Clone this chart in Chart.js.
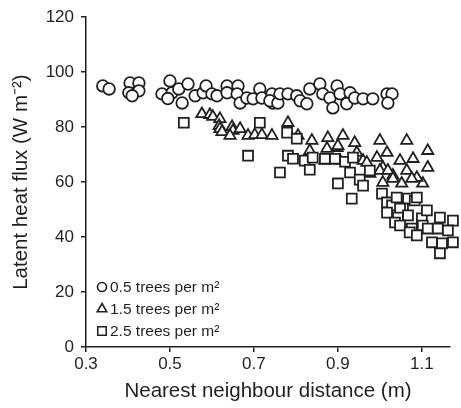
<!DOCTYPE html>
<html>
<head>
<meta charset="utf-8">
<script src="https://cdn.jsdelivr.net/npm/chart.js@4"></script>
<style>
  html, body { margin: 0; padding: 0; background: #fff; }
  #wrap { width: 461px; height: 408px; }
</style>
</head>
<body>
<div id="wrap"><canvas id="chart"></canvas></div>
<script>
// 0.5 trees per m2 (circles)
const circleX = [0.340, 0.355, 0.405, 0.426, 0.402, 0.426, 0.410, 0.481, 0.500, 0.505, 0.521, 0.495, 0.529, 0.543, 0.560, 0.579, 0.586, 0.600, 0.612, 0.636, 0.636, 0.662, 0.660, 0.667, 0.683, 0.698, 0.714, 0.719, 0.743, 0.745, 0.738, 0.757, 0.762, 0.781, 0.802, 0.810, 0.826, 0.833, 0.857, 0.864, 0.881, 0.888, 0.898, 0.905, 0.921, 0.929, 0.940, 0.960, 0.983, 1.017, 1.029, 1.019];
const circleY = [95.0, 93.9, 96.1, 96.1, 92.5, 93.2, 91.4, 92.1, 96.8, 92.5, 93.9, 90.4, 88.8, 95.7, 91.4, 92.5, 95.0, 92.1, 91.4, 95.0, 92.5, 95.0, 92.1, 88.8, 90.6, 90.3, 93.9, 90.6, 92.1, 88.8, 89.6, 88.8, 92.1, 92.1, 91.4, 89.6, 88.5, 93.9, 95.7, 92.1, 90.6, 87.0, 95.0, 92.1, 88.5, 92.5, 90.6, 90.3, 90.3, 92.1, 92.1, 88.8];

// 1.5 trees per m2 (triangles)
const triangleX = [0.576, 0.595, 0.602, 0.619, 0.617, 0.619, 0.624, 0.648, 0.650, 0.643, 0.667, 0.686, 0.702, 0.719, 0.743, 0.781, 0.805, 0.838, 0.876, 0.912, 0.940, 1.000, 1.064, 1.114, 1.114, 1.102, 0.960, 0.993, 1.017, 1.048, 1.079, 0.976, 1.007, 1.031, 1.064, 1.088, 0.833, 0.874, 0.898, 0.905, 0.869, 0.900, 0.945, 0.969, 1.000, 1.019, 1.076, 1.031, 1.007, 1.052];
const triangleY = [84.8, 84.5, 83.8, 83.0, 80.5, 79.4, 78.3, 80.1, 78.7, 76.9, 79.4, 76.9, 77.2, 77.2, 76.9, 81.6, 76.9, 75.1, 76.1, 76.9, 74.3, 75.1, 75.1, 71.4, 65.3, 59.5, 67.8, 68.9, 70.7, 67.8, 68.5, 63.1, 65.3, 62.4, 64.2, 61.6, 71.4, 72.2, 72.5, 67.8, 67.8, 73.2, 70.7, 67.1, 64.2, 64.2, 61.3, 61.3, 59.8, 59.5];

// 2.5 trees per m2 (squares)
const squareX = [0.533, 0.714, 0.686, 0.762, 0.779, 0.802, 0.781, 0.793, 0.821, 0.833, 0.840, 0.869, 0.893, 0.917, 0.936, 0.929, 0.900, 0.952, 0.960, 0.976, 0.933, 1.005, 1.017, 1.029, 1.040, 1.067, 1.083, 1.055, 1.048, 1.017, 1.043, 1.036, 1.067, 1.100, 1.112, 1.143, 1.174, 1.048, 1.076, 1.102, 1.114, 1.138, 1.162, 1.071, 1.088, 1.124, 1.148, 1.174, 1.143, 1.088];
const squareY = [81.6, 81.6, 69.6, 63.5, 78.0, 75.8, 69.6, 68.5, 67.8, 64.5, 68.9, 68.5, 68.5, 67.4, 68.9, 63.5, 59.5, 60.9, 58.7, 64.2, 54.0, 55.8, 52.6, 51.5, 54.4, 54.0, 53.3, 50.4, 50.4, 48.9, 47.1, 45.3, 47.9, 46.8, 49.7, 47.1, 46.0, 44.2, 43.1, 44.2, 43.1, 43.1, 42.4, 41.7, 40.6, 38.1, 37.7, 38.1, 34.1, 54.4];

const legendLabels = ["0.5 trees per m\u00b2", "1.5 trees per m\u00b2", "2.5 trees per m\u00b2"];
const xTicks = [0.3, 0.5, 0.7, 0.9, 1.1];

const ink = "#231f20";
const font = "'Liberation Sans', Arial, sans-serif";

function pts(xs, ys) {
  return xs.map((x, i) => ({ x: x, y: ys[i] }));
}

// little legend drawn inside the plot, bottom-left
const insideLegend = {
  id: "insideLegend",
  afterDraw(chart) {
    const ctx = chart.ctx;
    const a = chart.chartArea;
    const styles = ["circle", "triangle", "rect"];
    const radii = [4.5, 5.5, 6];
    ctx.save();
    ctx.font = "15.5px " + font;
    ctx.textBaseline = "middle";
    legendLabels.forEach((lab, i) => {
      const y = a.bottom - 60 + i * 22;
      const x = a.left + 16;
      ctx.strokeStyle = ink;
      ctx.lineWidth = 1.6;
      ctx.fillStyle = "#fff";
      Chart.helpers.drawPoint(ctx, { pointStyle: styles[i], radius: radii[i], borderWidth: 1.6 }, x, y);
      ctx.fillStyle = ink;
      ctx.fillText(lab, x + 8, y + 1);
    });
    ctx.restore();
  }
};

const common = {
  showLine: false,
  borderColor: ink,
  backgroundColor: "#fff",
  borderWidth: 1.8,
  clip: false
};

new Chart(document.getElementById("chart"), {
  type: "scatter",
  data: {
    datasets: [
      Object.assign({ label: legendLabels[0], data: pts(circleX, circleY), pointStyle: "circle", pointRadius: 5.8, order: 3 }, common),
      Object.assign({ label: legendLabels[1], data: pts(triangleX, triangleY), pointStyle: "triangle", pointRadius: 6.5, order: 2 }, common),
      Object.assign({ label: legendLabels[2], data: pts(squareX, squareY), pointStyle: "rect", pointRadius: 7, order: 1 }, common)
    ]
  },
  options: {
    responsive: true,
    maintainAspectRatio: false,
    animation: false,
    layout: { padding: { top: 16, right: 11, left: 0, bottom: 0 } },
    plugins: { legend: { display: false }, tooltip: { enabled: false } },
    scales: {
      x: {
        type: "linear",
        min: 0.3,
        max: 1.167,
        afterBuildTicks(scale) {
          scale.ticks = xTicks.map(v => ({ value: v }));
        },
        afterFit(scale) { scale.height = 61; },
        border: { display: true, color: ink, width: 1.5 },
        grid: { display: true, drawOnChartArea: false, drawTicks: true, tickLength: 5, color: ink, lineWidth: 1.5 },
        ticks: {
          color: ink,
          font: { family: font, size: 17 },
          padding: 2,
          maxRotation: 0,
          callback: v => v.toFixed(1)
        },
        title: {
          display: true,
          text: "Nearest neighbour distance (m)",
          color: ink,
          font: { family: font, size: 20.5 },
          padding: { top: 2, bottom: 4 }
        }
      },
      y: {
        min: 0,
        max: 120,
        afterFit(scale) { scale.width = 86; },
        border: { display: true, color: ink, width: 1.5 },
        grid: { display: true, drawOnChartArea: false, drawTicks: true, tickLength: 5, color: ink, lineWidth: 1.5 },
        ticks: {
          stepSize: 20,
          color: ink,
          font: { family: font, size: 17 },
          padding: 7
        },
        title: {
          display: true,
          text: "Latent heat flux (W m\u207b\u00b2)",
          color: ink,
          font: { family: font, size: 20.5 },
          padding: { top: 9, bottom: 0 }
        }
      }
    }
  },
  plugins: [insideLegend]
});
</script>
</body>
</html>
